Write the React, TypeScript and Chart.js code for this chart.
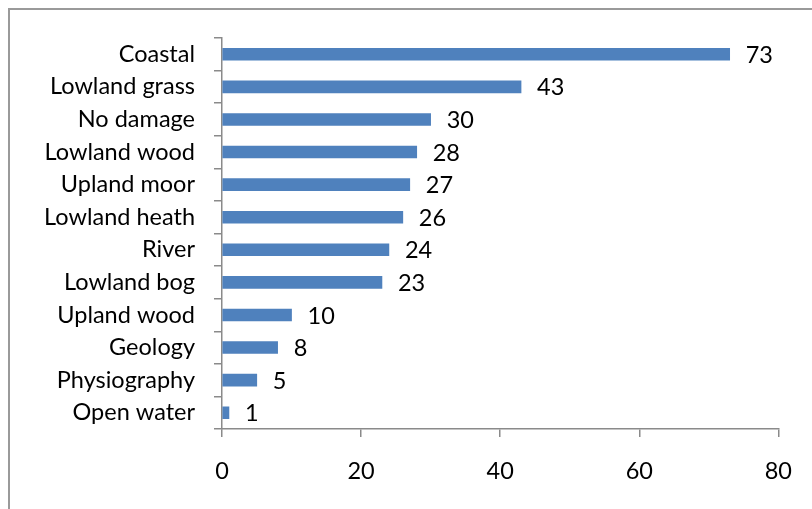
import React, { useEffect, useRef } from "react";
import { Chart, registerables } from "chart.js";

Chart.register(...registerables);

const categories = [
  "Coastal",
  "Lowland grass",
  "No damage",
  "Lowland wood",
  "Upland moor",
  "Lowland heath",
  "River",
  "Lowland bog",
  "Upland wood",
  "Geology",
  "Physiography",
  "Open water",
];
const values = [73, 43, 30, 28, 27, 26, 24, 23, 10, 8, 5, 1];
const xMin = 0;
const xMax = 80;
const xStep = 20;

const FONT = "Lato, 'DejaVu Sans', sans-serif";
const FONT_SIZE = 23.5;
const AXIS_GRAY = "#8a8a8a";

const framePlugin = {
  id: "frame",
  beforeDraw(chart: any) {
    const ctx = chart.ctx;
    ctx.save();
    ctx.strokeStyle = "#9a9a9a";
    ctx.lineWidth = 2;
    ctx.strokeRect(9, 9, 1200, 1200);
    ctx.restore();
  },
};

const labelPlugin = {
  id: "barLabels",
  afterDatasetsDraw(chart: any) {
    const ctx = chart.ctx;
    const meta = chart.getDatasetMeta(0);
    ctx.save();
    ctx.font = `${FONT_SIZE}px ${FONT}`;
    ctx.fillStyle = "#000";
    ctx.textAlign = "left";
    ctx.textBaseline = "middle";
    meta.data.forEach((bar: any, i: number) => {
      ctx.fillText(String(values[i]), bar.x + 16, bar.y + 1);
    });
    ctx.restore();
  },
};

export default function App() {
  const canvasRef = useRef<HTMLCanvasElement | null>(null);

  useEffect(() => {
    document.body.style.overflow = "hidden";
    const canvas = canvasRef.current!;
    const chart = new Chart(canvas, {
      type: "bar",
      data: {
        labels: categories,
        datasets: [
          {
            data: values,
            backgroundColor: "#4F81BD",
            borderWidth: 0,
            barThickness: 12,
          },
        ],
      },
      options: {
        indexAxis: "y",
        animation: false,
        responsive: false,
        devicePixelRatio: 1,
        layout: { padding: { top: 38, right: 30, left: 0, bottom: 0 } },
        plugins: {
          legend: { display: false },
          tooltip: { enabled: false },
        },
        scales: {
          x: {
            min: xMin,
            max: xMax,
            ticks: {
              stepSize: xStep,
              color: "#000",
              font: { family: FONT, size: FONT_SIZE },
              padding: 20,
            },
            grid: {
              drawOnChartArea: false,
              drawTicks: true,
              tickLength: 8,
              color: AXIS_GRAY,
              lineWidth: 1.5,
            },
            border: { display: true, color: AXIS_GRAY, width: 1.5 },
            afterFit(scale: any) {
              scale.height = 509 - 429;
            },
          },
          y: {
            ticks: {
              color: "#000",
              font: { family: FONT, size: FONT_SIZE },
              padding: 19,
              autoSkip: false,
            },
            grid: {
              drawOnChartArea: false,
              drawTicks: true,
              tickLength: 8,
              offset: true,
              color: AXIS_GRAY,
              lineWidth: 1.5,
            },
            border: { display: true, color: AXIS_GRAY, width: 1.5 },
            afterFit(scale: any) {
              scale.width = 222;
            },
          },
        },
      },
      plugins: [framePlugin, labelPlugin],
    });
    return () => chart.destroy();
  }, []);

  return (
    <div style={{ position: "fixed", left: 0, top: 0, width: 812, height: 509, background: "#fff" }}>
      <canvas ref={canvasRef} width={812} height={509} style={{ width: 812, height: 509, display: "block" }} />
    </div>
  );
}
